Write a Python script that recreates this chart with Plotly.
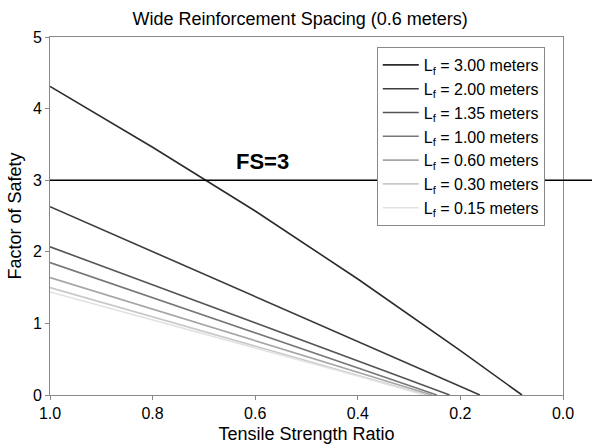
import plotly.graph_objects as go

# Tensile strength ratio (x) and factor of safety (y) for each reinforcement length
labels = ["3.00", "2.00", "1.35", "1.00", "0.60", "0.30", "0.15"]
x_300 = [1.0, 0.8, 0.6, 0.4, 0.2, 0.08]
y_300 = [4.31, 3.46, 2.57, 1.62, 0.62, 0.0]
x_200 = [1.0, 0.8, 0.6, 0.4, 0.2, 0.162]
y_200 = [2.63, 2.00, 1.375, 0.747, 0.12, 0.0]
x_135 = [1.0, 0.8, 0.6, 0.4, 0.221]
y_135 = [2.07, 1.54, 1.007, 0.476, 0.0]
x_100 = [1.0, 0.8, 0.6, 0.4, 0.246]
y_100 = [1.85, 1.36, 0.869, 0.378, 0.0]
x_060 = [1.0, 0.8, 0.6, 0.4, 0.256]
y_060 = [1.64, 1.20, 0.758, 0.317, 0.0]
x_030 = [1.0, 0.8, 0.6, 0.4, 0.266]
y_030 = [1.50, 1.09, 0.683, 0.274, 0.0]
x_015 = [1.0, 0.8, 0.6, 0.4, 0.27]
y_015 = [1.44, 1.05, 0.655, 0.266, 0.0]

xs = [x_300, x_200, x_135, x_100, x_060, x_030, x_015]
ys = [y_300, y_200, y_135, y_100, y_060, y_030, y_015]
colors = ["#2b2b2b", "#3c3c3c", "#555555", "#777777", "#a5a5a5", "#c8c8c8", "#e2e2e2"]

FS_LINE = 3
x_ticks = [1.0, 0.8, 0.6, 0.4, 0.2, 0.0]
y_ticks = [0, 1, 2, 3, 4, 5]

FONT = "Arial, Liberation Sans, sans-serif"

fig = go.Figure()
for lab, x, y, c in zip(labels, xs, ys, colors):
    fig.add_trace(go.Scatter(
        x=x, y=y, mode="lines",
        line=dict(color=c, width=1.6),
        name=f"L<sub>f</sub> = {lab} meters",
    ))

fig.add_shape(type="line", xref="paper", yref="y", x0=0, x1=1.06, y0=FS_LINE, y1=FS_LINE,
              line=dict(color="black", width=1.6), layer="above")
fig.add_annotation(x=0.585, y=3.26, text="<b>FS=3</b>", showarrow=False,
                   font=dict(size=22, color="black", family=FONT))

fig.update_layout(
    width=592, height=445,
    margin=dict(l=50, r=29, t=37, b=50),
    paper_bgcolor="white", plot_bgcolor="white",
    font=dict(family=FONT, color="black", size=16),
    title=dict(text="Wide Reinforcement Spacing (0.6 meters)", x=0.507, xanchor="center",
               y=0.957, yanchor="middle", font=dict(size=18)),
    showlegend=True,
    legend=dict(x=0.637, y=0.972, xanchor="left", yanchor="top",
                bgcolor="white", bordercolor="#888888", borderwidth=1,
                font=dict(size=16), tracegroupgap=0, itemwidth=36),
)
fig.update_xaxes(range=[1.0, 0.0], tickvals=x_ticks, tickformat=".1f",
                 ticks="outside", ticklen=4, tickcolor="#888888",
                 showline=True, linecolor="#888888", linewidth=1, mirror=True,
                 showgrid=False, zeroline=False, automargin=False,
                 title=dict(text="Tensile Strength Ratio", font=dict(size=18), standoff=6),
                 tickfont=dict(size=16))
fig.update_yaxes(range=[0, 5], tickvals=y_ticks,
                 ticks="outside", ticklen=4, tickcolor="#888888",
                 showline=True, linecolor="#888888", linewidth=1, mirror=True,
                 showgrid=False, zeroline=False, automargin=False,
                 title=dict(text="Factor of Safety", font=dict(size=18), standoff=6),
                 tickfont=dict(size=16))

fig.write_html("out.html")
